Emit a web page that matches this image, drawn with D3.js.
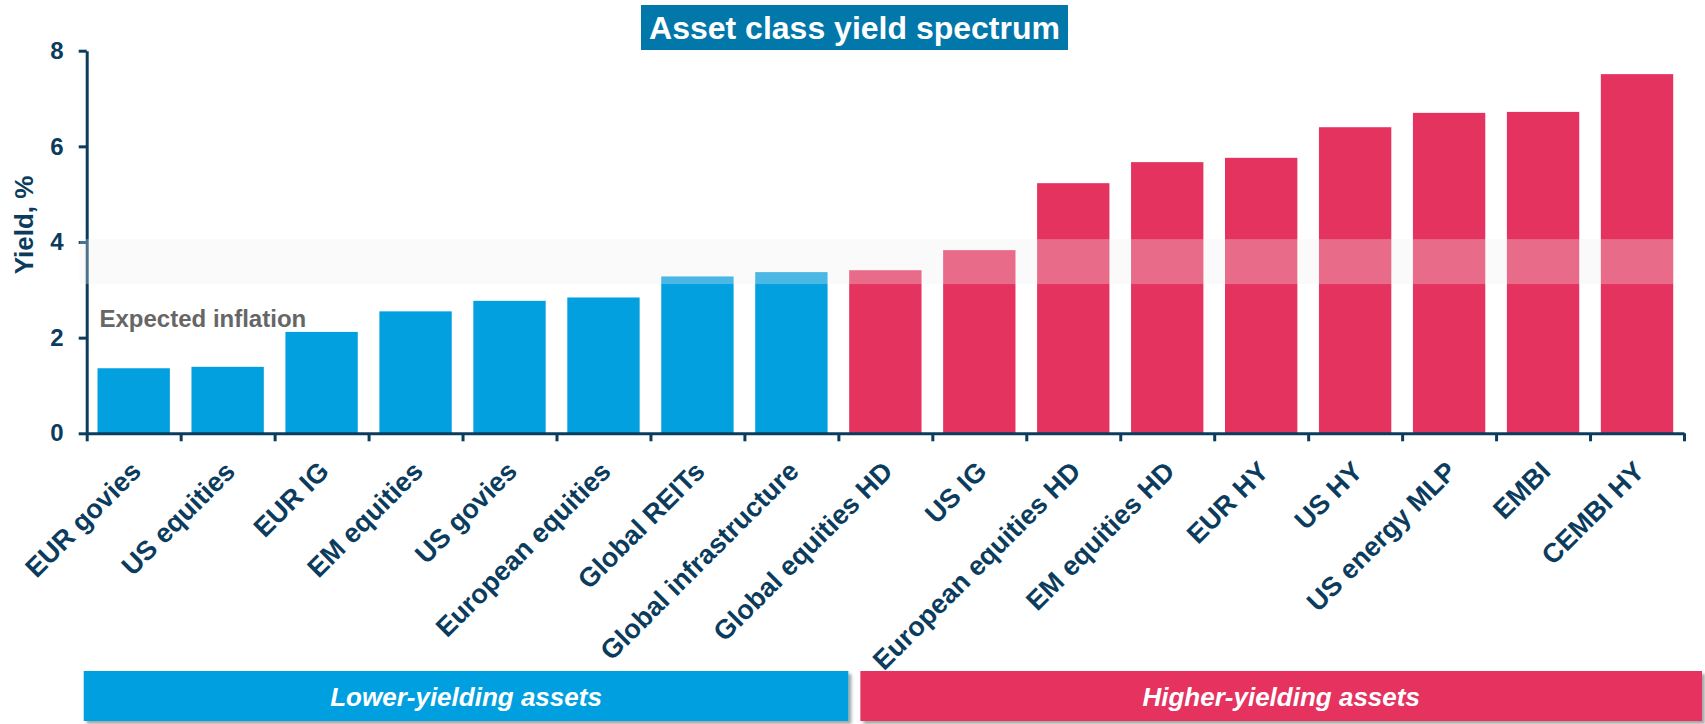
<!DOCTYPE html>
<html lang="en">
<head>
    <meta charset="UTF-8">
    <title>Asset class yield spectrum</title>
    <script src="https://d3js.org/d3.v7.min.js"></script>
    <style>
        body {
            margin: 0;
            padding: 0;
            background-color: #ffffff;
            font-family: "Liberation Sans", Arial, sans-serif;
        }
        svg {
            display: block;
        }
        .axis path, .axis line {
            stroke: #0b3c5d;
            stroke-width: 3;
        }
        .axis text {
            fill: #0b3c5d;
            font-size: 24px;
            font-weight: bold;
            font-family: "Liberation Sans", Arial, sans-serif;
        }
    </style>
</head>
<body>
    <svg id="chart"></svg>

    <script>
        const categories = ["EUR govies", "US equities", "EUR IG", "EM equities", "US govies",
            "European equities", "Global REITs", "Global infrastructure", "Global equities HD",
            "US IG", "European equities HD", "EM equities HD", "EUR HY", "US HY",
            "US energy MLP", "EMBI", "CEMBI HY"];
        const yields = [1.36, 1.39, 2.12, 2.55, 2.77, 2.84, 3.28, 3.37, 3.41, 3.83,
            5.23, 5.67, 5.76, 6.40, 6.70, 6.72, 7.51];
        // 0 = lower-yielding, 1 = higher-yielding
        const groupOf = [0, 0, 0, 0, 0, 0, 0, 0, 1, 1, 1, 1, 1, 1, 1, 1, 1];
        const groupNames = ["Lower-yielding assets", "Higher-yielding assets"];
        const yTicks = [0, 2, 4, 6, 8];
        const inflationRange = [3.12, 4.06];

        const width = 1705, height = 724;
        const colors = ["#03a0e0", "#e5335f"];
        const navy = "#0b3c5d";

        const svg = d3.select("#chart").attr("width", width).attr("height", height);

        const defs = svg.append("defs");
        defs.append("filter").attr("id", "shadow")
            .attr("x", "-5%").attr("y", "-20%").attr("width", "110%").attr("height", "150%")
            .append("feDropShadow")
            .attr("dx", 3).attr("dy", 3).attr("stdDeviation", 1.5)
            .attr("flood-color", "#000").attr("flood-opacity", 0.35);

        const axisLeft = 86.7, axisRight = 1684, axisBottom = 433.3, axisTop = 50.7;

        const x = d3.scaleBand()
            .domain(categories)
            .range([axisLeft, axisRight])
            .paddingInner(0.23)
            .paddingOuter(0.115);

        const y = d3.scaleLinear()
            .domain([0, 8])
            .range([axisBottom, axisTop]);

        // bars
        svg.append("g")
            .selectAll("rect")
            .data(categories)
            .enter()
            .append("rect")
            .attr("x", d => x(d))
            .attr("y", (d, i) => y(yields[i]))
            .attr("width", x.bandwidth())
            .attr("height", (d, i) => y(0) - y(yields[i]))
            .attr("fill", (d, i) => colors[groupOf[i]]);

        // y axis
        svg.append("g")
            .attr("class", "axis")
            .attr("transform", `translate(${axisLeft},0)`)
            .call(d3.axisLeft(y).tickValues(yTicks).tickSize(8).tickSizeOuter(0).tickPadding(15));

        // x axis, ticks at the band edges
        const edge = d3.scaleLinear().domain([0, categories.length]).range([axisLeft, axisRight]);
        svg.append("g")
            .attr("class", "axis")
            .attr("transform", `translate(0,${axisBottom})`)
            .call(d3.axisBottom(edge).tickValues(d3.range(categories.length + 1))
                .tickFormat("").tickSize(8).tickSizeOuter(0));

        // x labels
        svg.append("g")
            .selectAll("text")
            .data(categories)
            .enter()
            .append("text")
            .attr("transform", d => `translate(${x(d) + x.bandwidth() / 2 + 9},473) rotate(-45)`)
            .attr("text-anchor", "end")
            .attr("fill", navy)
            .style("font-size", "27px")
            .style("font-weight", "bold")
            .text(d => d);

        // expected inflation band
        const lastCat = categories[categories.length - 1];
        svg.append("rect")
            .attr("x", axisLeft - 7)
            .attr("y", y(inflationRange[1]))
            .attr("width", x(lastCat) + x.bandwidth() - axisLeft + 7)
            .attr("height", y(inflationRange[0]) - y(inflationRange[1]))
            .attr("fill", "#eeeeee")
            .attr("fill-opacity", 0.3);

        svg.append("text")
            .attr("x", x(categories[0]) + 2)
            .attr("y", 327)
            .attr("fill", "#666666")
            .style("font-size", "24px")
            .style("font-weight", "bold")
            .text("Expected inflation");

        // y axis title
        svg.append("text")
            .attr("transform", "translate(33,225) rotate(-90)")
            .attr("text-anchor", "middle")
            .attr("fill", navy)
            .style("font-size", "26px")
            .style("font-weight", "bold")
            .text("Yield, %");

        // title
        const title = svg.append("g");
        title.append("rect")
            .attr("x", 641).attr("y", 5)
            .attr("width", 427).attr("height", 45)
            .attr("fill", "#0277aa");
        title.append("text")
            .attr("x", 854.5).attr("y", 39)
            .attr("text-anchor", "middle")
            .attr("fill", "#ffffff")
            .style("font-size", "32px")
            .style("font-weight", "bold")
            .text("Asset class yield spectrum");

        // group boxes
        const splitIdx = groupOf.indexOf(1);
        const boxes = [
            { x0: axisLeft - 3, x1: edge(splitIdx) + 10 },
            { x0: edge(splitIdx) + 22, x1: width - 3 }
        ];
        const boxG = svg.append("g");
        boxes.forEach((b, i) => {
            boxG.append("rect")
                .attr("x", b.x0).attr("y", 671)
                .attr("width", b.x1 - b.x0).attr("height", 50)
                .attr("fill", colors[i])
                .attr("filter", "url(#shadow)");
            boxG.append("text")
                .attr("x", (b.x0 + b.x1) / 2).attr("y", 706)
                .attr("text-anchor", "middle")
                .attr("fill", "#ffffff")
                .style("font-size", "26px")
                .style("font-weight", "bold")
                .style("font-style", "italic")
                .text(groupNames[i]);
        });
    </script>
</body>
</html>
